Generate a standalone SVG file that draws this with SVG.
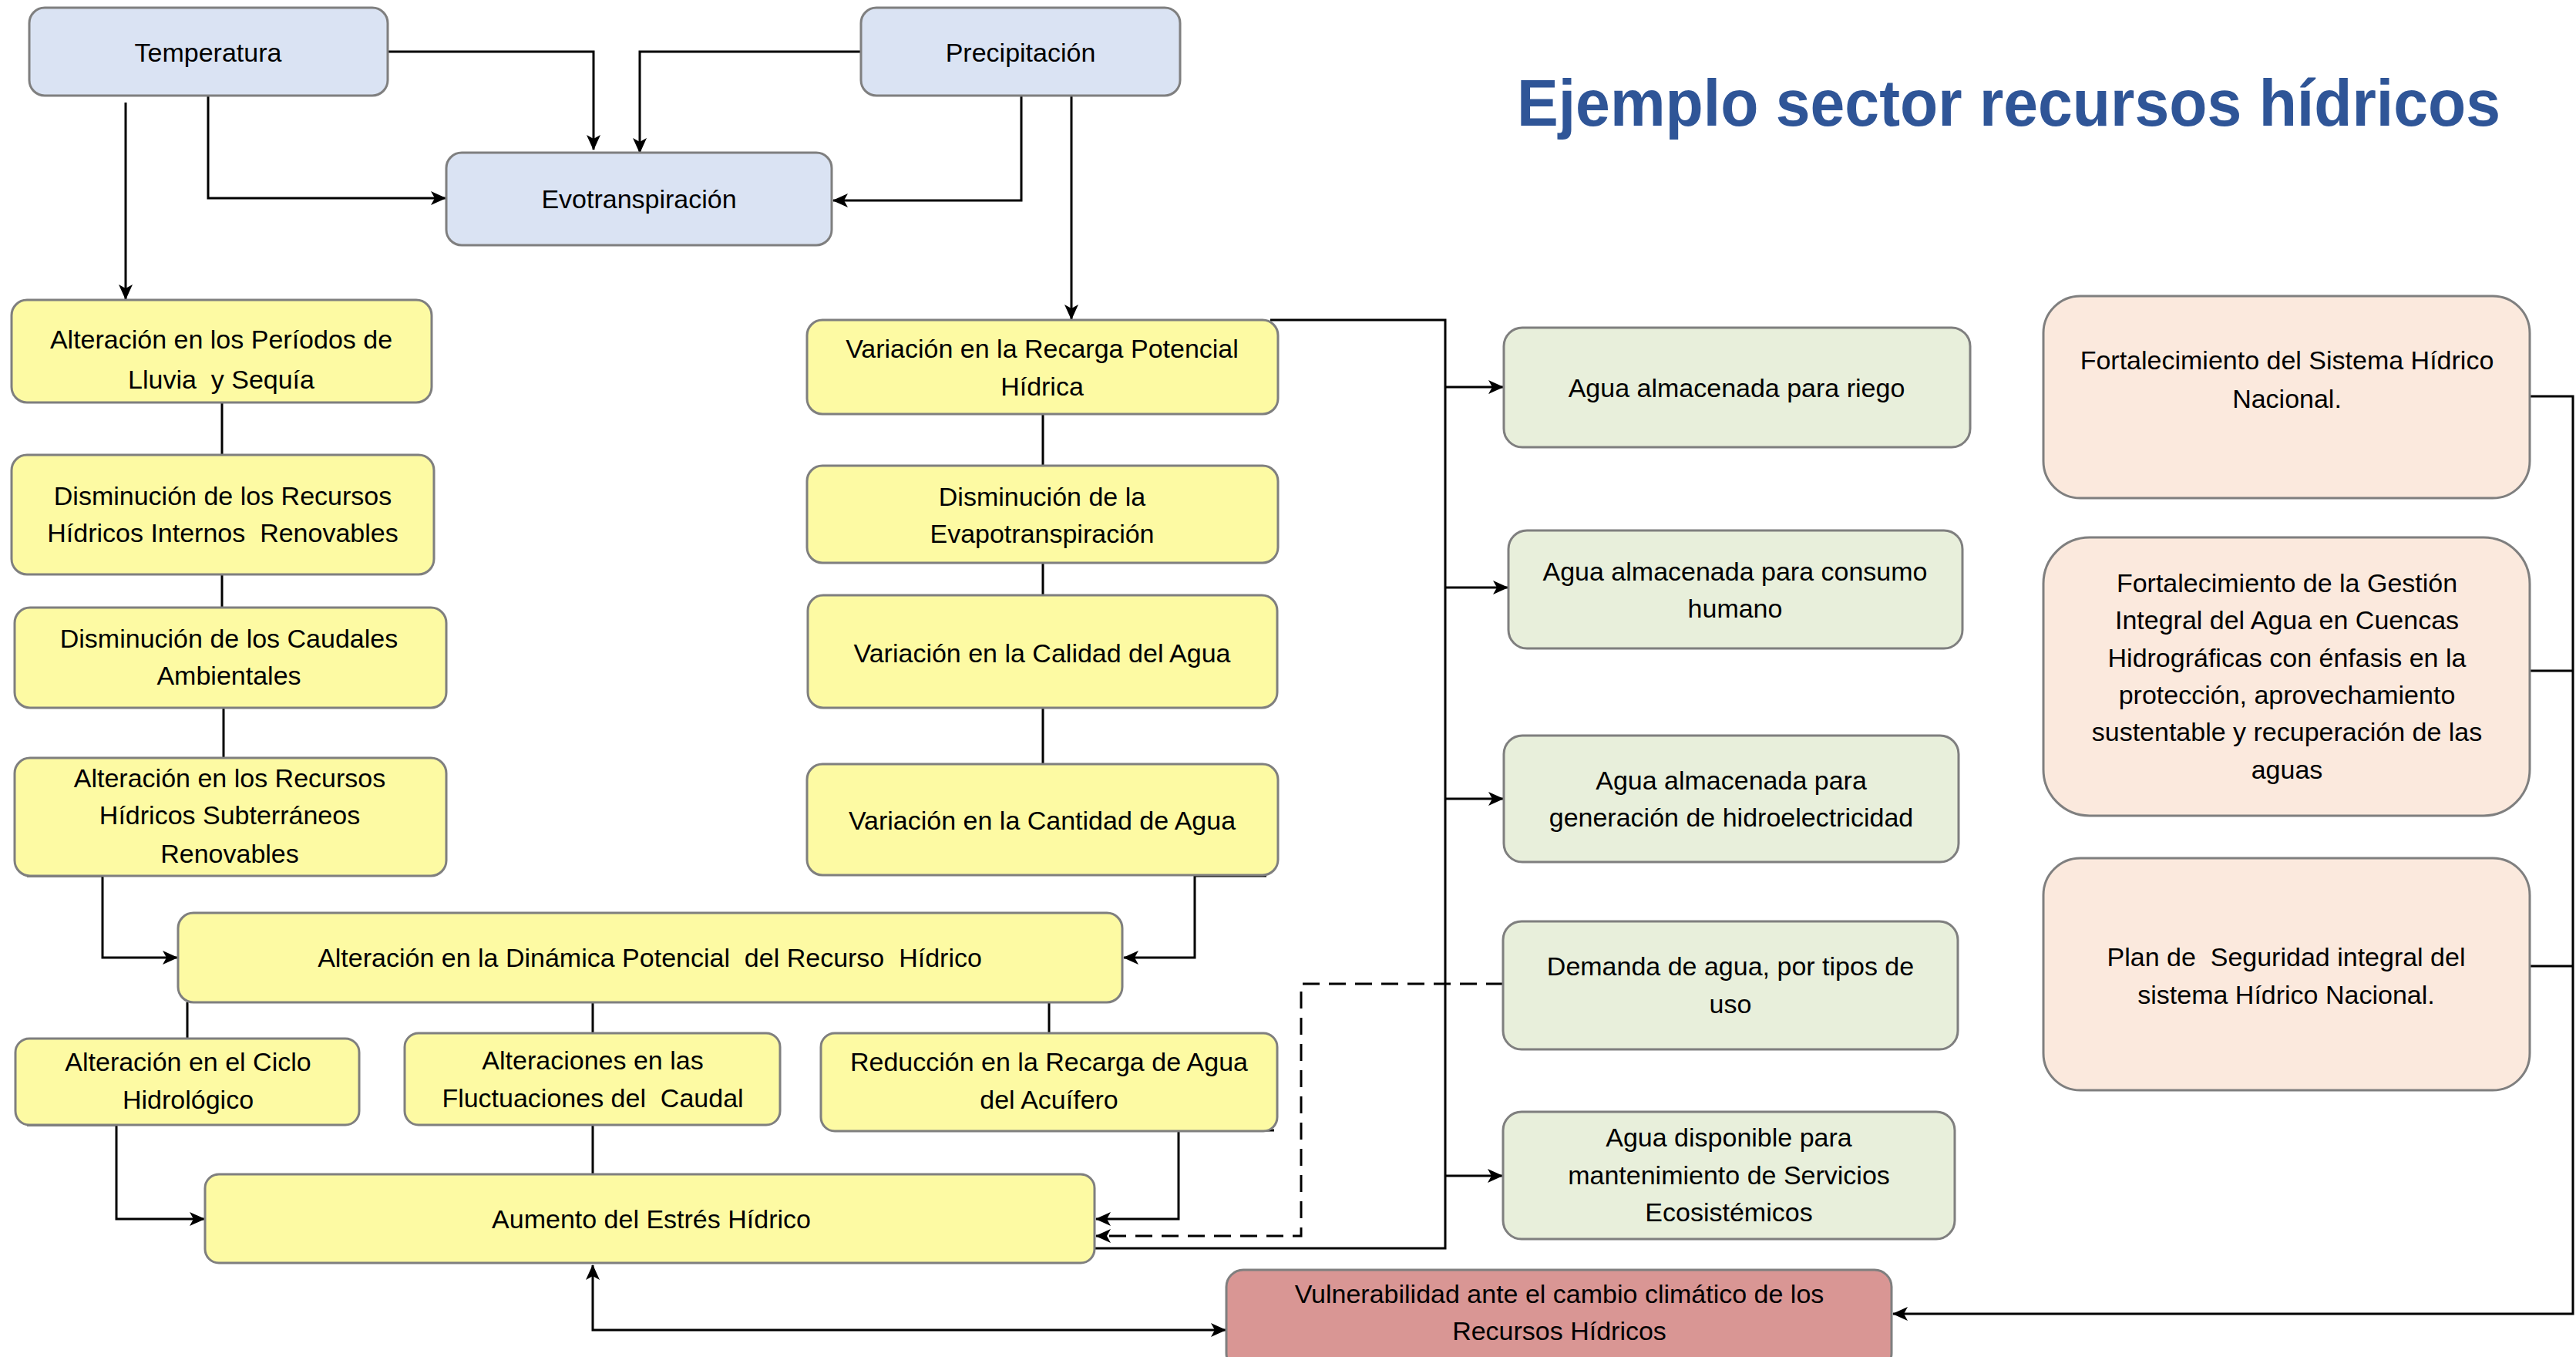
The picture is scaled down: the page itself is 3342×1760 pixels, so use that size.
<svg xmlns="http://www.w3.org/2000/svg" width="3342" height="1760" viewBox="0 0 3342 1760">
<defs>
<marker id="arr" viewBox="0 0 20 20" refX="19" refY="10" markerWidth="20" markerHeight="20" orient="auto-start-reverse" markerUnits="userSpaceOnUse">
<path d="M0,1 L20,10 L0,19 L5,10 z" fill="#000"/>
</marker>
<style>
.t{font-family:"Liberation Sans",Arial,sans-serif;font-size:34px;fill:#000;text-anchor:middle;white-space:pre}
.b{stroke:#7f7f7f;stroke-width:3}
.blue{fill:#dae3f3}
.yel{fill:#fdfaa3}
.grn{fill:#e8efdb}
.pch{fill:#fbe9dd}
.red{fill:#d99694}
.c{fill:none;stroke:#000;stroke-width:3}
.d{fill:none;stroke:#000;stroke-width:3;stroke-dasharray:22 12}
.title{font-family:"Liberation Sans",Arial,sans-serif;font-weight:bold;font-size:86px;fill:#2f5597}
</style>
</defs>
<rect width="3342" height="1760" fill="#fff"/>
<text class="title" x="1968" y="163" textLength="1276" lengthAdjust="spacingAndGlyphs">Ejemplo sector recursos hídricos</text>

<g id="connectors">
<path class="c" d="M503,67 H770 V194" marker-end="url(#arr)"/>
<path class="c" d="M1117,67 H830 V198" marker-end="url(#arr)"/>
<path class="c" d="M270,125 V257 H578" marker-end="url(#arr)"/>
<path class="c" d="M1325,125 V260 H1081" marker-end="url(#arr)"/>
<path class="c" d="M163,133 V388" marker-end="url(#arr)"/>
<path class="c" d="M1390,125 V414" marker-end="url(#arr)"/>
<path class="c" d="M288,522 V590"/>
<path class="c" d="M288,745 V788"/>
<path class="c" d="M290,918 V983"/>
<path class="c" d="M1353,537 V604"/>
<path class="c" d="M1353,730 V772"/>
<path class="c" d="M1353,918 V991"/>
<path class="c" d="M35,1136 H133 V1242 H230" marker-end="url(#arr)"/>
<path class="c" d="M1643,1136 H1550 V1242 H1458" marker-end="url(#arr)"/>
<path class="c" d="M243,1300 V1347"/>
<path class="c" d="M769,1300 V1340"/>
<path class="c" d="M1361,1300 V1340"/>
<path class="c" d="M35,1459 H151 V1581 H265" marker-end="url(#arr)"/>
<path class="c" d="M769,1459 V1522"/>
<path class="c" d="M1653,1466 H1529 V1581 H1422" marker-end="url(#arr)"/>
<path class="d" d="M1950,1276 H1688 V1603 H1422" marker-end="url(#arr)"/>
<path class="c" d="M1420,1619 H1875 V415 H1648"/>
<path class="c" d="M1875,502 H1950" marker-end="url(#arr)"/>
<path class="c" d="M1875,762 H1956" marker-end="url(#arr)"/>
<path class="c" d="M1875,1036 H1950" marker-end="url(#arr)"/>
<path class="c" d="M1875,1525 H1949" marker-end="url(#arr)"/>
<path class="c" d="M3282,514 H3338 V1704 H2456" marker-end="url(#arr)"/>
<path class="c" d="M3282,870 H3338"/>
<path class="c" d="M3282,1253 H3338"/>
<path class="c" d="M769,1641 V1725 H1590" marker-start="url(#arr)" marker-end="url(#arr)"/>
</g>

<g id="temperatura"><rect class="b blue" x="38" y="10" width="465" height="114" rx="20"/><text class="t" x="270" y="80">Temperatura</text></g>
<g id="precipitacion"><rect class="b blue" x="1117" y="10" width="414" height="114" rx="20"/><text class="t" x="1324" y="80">Precipitación</text></g>
<g id="evotranspiracion"><rect class="b blue" x="579" y="198" width="500" height="120" rx="20"/><text class="t" x="829" y="270">Evotranspiración</text></g>

<g id="periodos"><rect class="b yel" x="15" y="389" width="545" height="133" rx="20"/><text class="t" x="287" y="452">Alteración en los Períodos de</text><text class="t" x="287" y="504">Lluvia  y Sequía</text></g>
<g id="recursos-internos"><rect class="b yel" x="15" y="590" width="548" height="155" rx="20"/><text class="t" x="289" y="655">Disminución de los Recursos</text><text class="t" x="289" y="703">Hídricos Internos  Renovables</text></g>
<g id="caudales"><rect class="b yel" x="19" y="788" width="560" height="130" rx="20"/><text class="t" x="297" y="840">Disminución de los Caudales</text><text class="t" x="297" y="888">Ambientales</text></g>
<g id="subterraneos"><rect class="b yel" x="19" y="983" width="560" height="153" rx="20"/><text class="t" x="298" y="1021">Alteración en los Recursos</text><text class="t" x="298" y="1069">Hídricos Subterráneos</text><text class="t" x="298" y="1119">Renovables</text></g>

<g id="recarga"><rect class="b yel" x="1047" y="415" width="611" height="122" rx="20"/><text class="t" x="1352" y="464">Variación en la Recarga Potencial</text><text class="t" x="1352" y="513">Hídrica</text></g>
<g id="evapotranspiracion"><rect class="b yel" x="1047" y="604" width="611" height="126" rx="20"/><text class="t" x="1352" y="656">Disminución de la</text><text class="t" x="1352" y="704">Evapotranspiración</text></g>
<g id="calidad"><rect class="b yel" x="1048" y="772" width="609" height="146" rx="20"/><text class="t" x="1352" y="859">Variación en la Calidad del Agua</text></g>
<g id="cantidad"><rect class="b yel" x="1047" y="991" width="611" height="144" rx="20"/><text class="t" x="1352" y="1076">Variación en la Cantidad de Agua</text></g>

<g id="dinamica"><rect class="b yel" x="231" y="1184" width="1225" height="116" rx="20"/><text class="t" x="843" y="1254">Alteración en la Dinámica Potencial  del Recurso  Hídrico</text></g>
<g id="ciclo"><rect class="b yel" x="20" y="1347" width="446" height="112" rx="18"/><text class="t" x="244" y="1389">Alteración en el Ciclo</text><text class="t" x="244" y="1438">Hidrológico</text></g>
<g id="fluctuaciones"><rect class="b yel" x="525" y="1340" width="487" height="119" rx="18"/><text class="t" x="769" y="1387">Alteraciones en las</text><text class="t" x="769" y="1436">Fluctuaciones del  Caudal</text></g>
<g id="reduccion"><rect class="b yel" x="1065" y="1340" width="592" height="127" rx="18"/><text class="t" x="1361" y="1389">Reducción en la Recarga de Agua</text><text class="t" x="1361" y="1438">del Acuífero</text></g>
<g id="estres"><rect class="b yel" x="266" y="1523" width="1154" height="115" rx="18"/><text class="t" x="845" y="1593">Aumento del Estrés Hídrico</text></g>

<g id="riego"><rect class="b grn" x="1951" y="425" width="605" height="155" rx="24"/><text class="t" x="2253" y="515">Agua almacenada para riego</text></g>
<g id="consumo"><rect class="b grn" x="1957" y="688" width="589" height="153" rx="24"/><text class="t" x="2251" y="753">Agua almacenada para consumo</text><text class="t" x="2251" y="801">humano</text></g>
<g id="hidroelectricidad"><rect class="b grn" x="1951" y="954" width="590" height="164" rx="24"/><text class="t" x="2246" y="1024">Agua almacenada para</text><text class="t" x="2246" y="1072">generación de hidroelectricidad</text></g>
<g id="demanda"><rect class="b grn" x="1950" y="1195" width="590" height="166" rx="24"/><text class="t" x="2245" y="1265">Demanda de agua, por tipos de</text><text class="t" x="2245" y="1314">uso</text></g>
<g id="disponible"><rect class="b grn" x="1950" y="1442" width="586" height="165" rx="24"/><text class="t" x="2243" y="1487">Agua disponible para</text><text class="t" x="2243" y="1536">mantenimiento de Servicios</text><text class="t" x="2243" y="1584">Ecosistémicos</text></g>

<g id="sistema"><rect class="b pch" x="2651" y="384" width="631" height="262" rx="48"/><text class="t" x="2967" y="479">Fortalecimiento del Sistema Hídrico</text><text class="t" x="2967" y="529">Nacional.</text></g>
<g id="gestion"><rect class="b pch" x="2651" y="697" width="631" height="361" rx="60"/><text class="t" x="2967" y="768">Fortalecimiento de la Gestión</text><text class="t" x="2967" y="816">Integral del Agua en Cuencas</text><text class="t" x="2967" y="865">Hidrográficas con énfasis en la</text><text class="t" x="2967" y="913">protección, aprovechamiento</text><text class="t" x="2967" y="961">sustentable y recuperación de las</text><text class="t" x="2967" y="1010">aguas</text></g>
<g id="plan"><rect class="b pch" x="2651" y="1113" width="631" height="301" rx="48"/><text class="t" x="2966" y="1253">Plan de  Seguridad integral del</text><text class="t" x="2966" y="1302">sistema Hídrico Nacional.</text></g>

<g id="vulnerabilidad"><rect class="b red" x="1591" y="1647" width="863" height="130" rx="22"/><text class="t" x="2023" y="1690">Vulnerabilidad ante el cambio climático de los</text><text class="t" x="2023" y="1738">Recursos Hídricos</text></g>
</svg>
